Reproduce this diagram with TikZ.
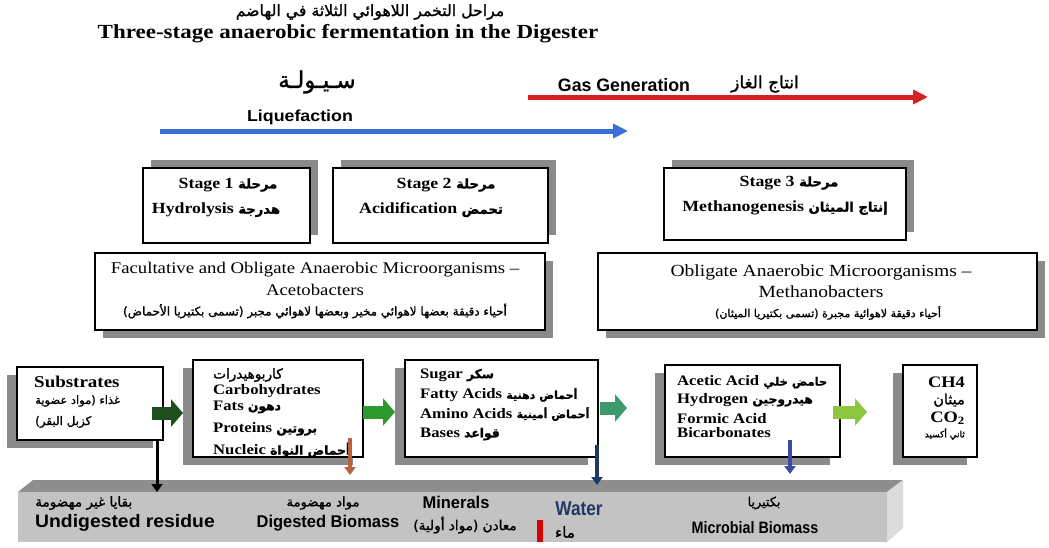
\documentclass[tikz,border=0pt]{standalone}
\usepackage{fontspec}
\setmainfont{Liberation Serif}[FakeStretch=1.15]
\newfontfamily\grot{Liberation Sans}[FakeStretch=1.12]
\newfontfamily\arabo[Script=Arabic,Scale=0.85,FakeBold=1.2]{DejaVu Sans}
\TeXXeTstate=1
\newcommand{\ara}[1]{{\arabo\beginR #1\endR}}
\usetikzlibrary{arrows.meta,shadows,calc}
\definecolor{ombra}{HTML}{8A8A8A}
\definecolor{tetto}{HTML}{8E8E8E}
\definecolor{fronte}{HTML}{C3C3C3}
\definecolor{fianco}{HTML}{DCDCDC}
\definecolor{blu}{HTML}{3A6FD8}
\definecolor{rosso}{HTML}{D42222}
\definecolor{verdescuro}{HTML}{1E4D1E}
\definecolor{verde}{HTML}{2E9A2E}
\definecolor{verdeacqua}{HTML}{3C9A6C}
\definecolor{verdechiaro}{HTML}{8DC63F}
\definecolor{marrone}{HTML}{B5643C}
\definecolor{notte}{HTML}{1F3864}
\definecolor{indaco}{HTML}{3B4BA0}

\begin{document}
\begin{tikzpicture}[
  x=1pt, y=-1pt,
  testo/.style={inner sep=1pt, align=center},
  tondo/.style={testo, font=\fontsize{#1}{#1}\selectfont\bfseries},
  tenue/.style={testo, font=\fontsize{#1}{#1}\selectfont},
  bastone/.style={testo, font=\fontsize{#1}{#1}\selectfont\grot\bfseries},
  araba/.style={testo, font=\fontsize{#1}{#1}\selectfont},
  scatola/.style={draw=black, line width=2.6pt, fill=white,
                  inner sep=0pt, outer sep=0pt},
  ombraalta/.style={drop shadow={shadow xshift=8pt, shadow yshift=8pt,
                    fill=ombra, opacity=1}},
  ombradestra/.style={drop shadow={shadow xshift=8pt, shadow yshift=-8pt,
                      fill=ombra, opacity=1}},
  ombrabassa/.style={drop shadow={shadow xshift=-10pt, shadow yshift=-8pt,
                     fill=ombra, opacity=1}},
  fase/.style={draw=#1, line width=5pt, -{Triangle[length=15pt, width=14pt]}},
  blocco/.style={draw=#1, line width=13pt, -{Triangle[length=12pt, width=27pt]}},
  scolo/.style={draw=#1, line width=4pt, -{Triangle[length=8pt, width=11pt]}}
]
\useasboundingbox[fill=white] (0,0) rectangle (1049,547);

%--------------------------------------------------------------
% Titolo
%--------------------------------------------------------------
\node[araba=18.5] (titar) at (370,12) {\ara{مراحل التخمر اللاهوائي الثلاثة في الهاضم}};
\node[tondo=20] (titen) at (348,34) {Three-stage anaerobic fermentation in the Digester};

%--------------------------------------------------------------
% Frecce delle fasi: liquefazione e produzione di gas
%--------------------------------------------------------------
\node[araba=27] (sayl) at (317,82) {\ara{سـيـولـة}};
\node[bastone=15.9] (liq) at (300,117) {Liquefaction};
\coordinate (liqA) at (160,131);
\coordinate (liqB) at (628,131);
\draw[fase=blu] (liqA) -- (liqB);

\node[bastone=18] (gas) at (624,85) {\scalebox{0.88}[1]{Gas Generation}};
\node[araba=20] (gasar) at (765,84) {\ara{انتاج الغاز}};
\coordinate (gasA) at (528,97);
\coordinate (gasB) at (928,97);
\draw[fase=rosso] (gasA) -- (gasB);

%--------------------------------------------------------------
% Le tre fasi
%--------------------------------------------------------------
\node[scatola, ombraalta, minimum width=167pt, minimum height=75pt] (st1) at (226.5,205.5) {};
\node[scatola, ombraalta, minimum width=215pt, minimum height=75pt] (st2) at (440.5,205.5) {};
\node[scatola, ombraalta, minimum width=242pt, minimum height=72pt] (st3) at (785,204) {};

\node[tondo=15.5] (st1a) at (228,185) {Stage 1 \ara{مرحلة}};
\node[tondo=15.5] (st1b) at (216,210) {Hydrolysis \ara{هدرجة}};
\node[tondo=15.5] (st2a) at (446,185) {Stage 2 \ara{مرحلة}};
\node[tondo=15.5] (st2b) at (431,210) {Acidification \ara{تحمض}};
\node[tondo=15.5] (st3a) at (789,183) {Stage 3 \ara{مرحلة}};
\node[tondo=15.5] (st3b) at (785,208) {Methanogenesis \ara{إنتاج الميثان}};

%--------------------------------------------------------------
% Microrganismi
%--------------------------------------------------------------
\node[scatola, ombradestra, minimum width=450pt, minimum height=77pt] (acb) at (320,291.5) {};
\node[scatola, ombradestra, minimum width=439pt, minimum height=77pt] (mtb) at (817.5,291.5) {};

\node[tenue=16.3] (acb1) at (315,270) {Facultative and Obligate Anaerobic Microorganisms –};
\node[tenue=16.3] (acb2) at (315,290) {Acetobacters};
\node[araba=14] (acb3) at (315,311)
  {\ara{أحياء دقيقة بعضها لاهوائي مخير وبعضها لاهوائي مجبر (تسمى بكتيريا الأحماض)}};
\node[tenue=17] (mtb1) at (821,272) {Obligate Anaerobic Microorganisms –};
\node[tenue=17] (mtb2) at (821,292) {Methanobacters};
\node[araba=13] (mtb3) at (828,313) {\ara{أحياء دقيقة لاهوائية مجبرة (تسمى بكتيريا الميثان)}};

%--------------------------------------------------------------
% Sostanze lungo il processo
%--------------------------------------------------------------
\node[scatola, ombrabassa, minimum width=146pt, minimum height=73pt] (sub) at (90,403.5) {};
\node[scatola, ombrabassa, minimum width=170pt, minimum height=97pt] (carb) at (278,408.5) {};
\node[scatola, ombrabassa, minimum width=193pt, minimum height=97pt] (sug) at (501.5,408.5) {};
\node[scatola, ombrabassa, minimum width=175pt, minimum height=92pt] (acet) at (752.5,411) {};
\node[scatola, ombrabassa, minimum width=74pt, minimum height=92pt] (ch4) at (940,411) {};

\node[tondo=16.5, anchor=west] (sub1) at (33,382) {Substrates};
\node[araba=13.5, anchor=west] (sub2) at (34,401) {\ara{غذاء (مواد عضوية}};
\node[araba=14, anchor=west] (sub3) at (34,422) {\ara{كزبل البقر)}};

\node[araba=16, anchor=west] (carb1) at (212,375) {\ara{كاربوهيدرات}};
\node[tondo=14.5, anchor=west] (carb2) at (212,391) {Carbohydrates};
\node[tondo=14.5, anchor=west] (carb3) at (212,407) {Fats \ara{دهون}};
\node[tondo=14.5, anchor=west] (carb4) at (212,429) {Proteins \ara{بروتين}};
\node[tondo=14.5, anchor=west] (carb5) at (212,450) {Nucleic \ara{أحماض النواة}};

\node[tondo=14.5, anchor=west] (sug1) at (419,375) {Sugar \ara{سكر}};
\node[tondo=14.5, anchor=west] (sug2) at (419,395) {Fatty Acids {\fontsize{13}{13}\selectfont\ara{أحماض دهنية}}};
\node[tondo=14.5, anchor=west] (sug3) at (419,414) {Amino Acids {\fontsize{13}{13}\selectfont\ara{أحماض أمينية}}};
\node[tondo=14.5, anchor=west] (sug4) at (419,434) {Bases \ara{قواعد}};

\node[tondo=14.5, anchor=west] (acet1) at (676,382) {Acetic Acid {\fontsize{13.5}{13.5}\selectfont\ara{حامض خلي}}};
\node[tondo=14.5, anchor=west] (acet2) at (676,400) {Hydrogen \ara{هيدروجين}};
\node[tondo=14.5, anchor=west] (acet3) at (676,419) {Formic Acid};
\node[tondo=14.5, anchor=west] (acet4) at (676,433) {Bicarbonates};

\node[tondo=16, anchor=east] (gas1) at (966,382) {CH4};
\node[araba=17, anchor=east] (gas2) at (966,400) {\ara{ميثان}};
\node[tondo=16, anchor=east] (gas3) at (966,418) {CO\textsubscript{2}};
\node[araba=10.5, anchor=east] (gas4) at (966,434) {\ara{ثاني أكسيد}};

% frecce piene tra una sostanza e la successiva
\coordinate (f1) at ($(sub.east)+(-11,9.5)$);
\coordinate (f2) at ($(carb.east)+(0,3.5)$);
\coordinate (f3) at ($(sug.east)+(2,-0.5)$);
\coordinate (f4) at ($(acet.east)+(-7,1)$);
\draw[blocco=verdescuro, shorten >=10pt] (f1) -- (f1 -| carb.west);
\draw[blocco=verde, shorten >=10pt] (f2) -- (f2 -| sug.west);
\draw[blocco=verdeacqua, shorten >=38pt] (f3) -- (f3 -| acet.west);
\draw[blocco=verdechiaro, shorten >=36pt] (f4) -- (f4 -| ch4.west);

%--------------------------------------------------------------
% Vasca del digestore
%--------------------------------------------------------------
\fill[tetto] (33,480) -- (903,480) -- (887,492) -- (18,492) -- cycle;
\fill[fianco] (887,492) -- (903,480) -- (903,528) -- (887,542) -- cycle;
\node[fill=fronte, inner sep=0pt, outer sep=0pt, anchor=north west,
      minimum width=869pt, minimum height=50pt] (barra) at (18,492) {};

\node[araba=16, anchor=west] (res1) at (34,503) {\ara{بقايا غير مهضومة}};
\node[bastone=18, anchor=west] (res2) at (34,523) {\scalebox{0.96}[1]{Undigested residue}};
\node[araba=15.5] (dig1) at (323,503) {\ara{مواد مهضومة}};
\node[bastone=17] (dig2) at (328,523) {\scalebox{0.865}[1]{Digested Biomass}};
\node[bastone=17] (min1) at (456,502) {\scalebox{0.865}[1]{Minerals}};
\node[araba=16] (min2) at (465,525) {\ara{معادن (مواد أولية)}};
\fill[red!85!black] (537,520) rectangle (543,542);
\node[bastone=20, text=notte] (acq1) at (579,509) {\scalebox{0.77}[1]{Water}};
\node[araba=18] (acq2) at (565,532) {\ara{ماء}};
\node[araba=15] (mic1) at (764,503) {\ara{بكتيريا}};
\node[bastone=16.5] (mic2) at (755,528) {\scalebox{0.775}[1]{Microbial Biomass}};

% scarichi verso la vasca
\coordinate (v1) at ($(sub.south east)+(-6,0)$);
\coordinate (v2) at ($(carb.south east)+(-13,-19)$);
\coordinate (v3) at ($(sug.south east)+(-1,-12)$);
\coordinate (v4) at ($(acet.south)+(37.5,-17)$);
\draw[scolo=black, line width=3pt] (v1) -- (v1 |- barra.north);
\draw[scolo=marrone] (v2) -- ($(v2 |- barra.north)+(0,-17)$);
\draw[scolo=notte] (v3) -- ($(v3 |- barra.north)+(0,-7)$);
\draw[scolo=indaco] (v4) -- ($(v4 |- barra.north)+(0,-18)$);

\end{tikzpicture}
\end{document}
